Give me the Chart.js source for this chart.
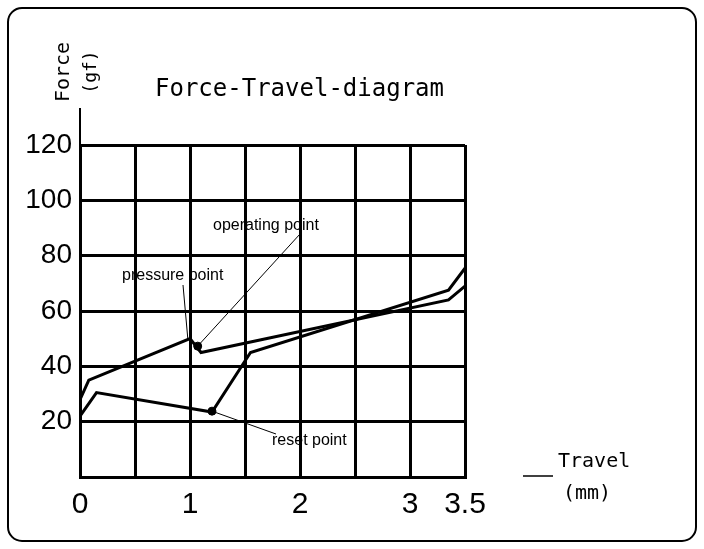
<!DOCTYPE html>
<html><head><meta charset="utf-8">
<script src="https://cdn.jsdelivr.net/npm/chart.js@4"></script>
<style>body{margin:0;background:#fff}canvas{display:block}</style>
</head><body><canvas id="c" width="704" height="549"></canvas>
<script>
const pressX=[0,0.08,1.0,1.1,3.35,3.5];
const pressY=[28,35,50,45,64,69];
const releaseX=[0,0.15,1.2,1.55,3.35,3.5];
const releaseY=[22,30.5,23.5,45,67.5,75.5];
const pointX=[1.07,1.2];
const pointY=[47.3,23.8];
const xTicks=[0,1,2,3,3.5];
const yTicks=[20,40,60,80,100,120];
const labels=[
 {text:'operating point',x:213,y:226,from:[1.07,47.3],to:[300,234]},
 {text:'pressure point',x:122,y:276,from:[0.98,50],to:[183,285]},
 {text:'reset point',x:272,y:441,from:[1.2,23.8],to:[276,434]}
];
const toPts=(xs,ys)=>xs.map((x,i)=>({x,y:ys[i]}));
const deco={id:'deco',afterDraw(ch){
 const c=ch.ctx,xs=ch.scales.x,ys=ch.scales.y;
 c.save();
 c.strokeStyle='#000';c.lineWidth=2;
 c.beginPath();c.roundRect(8,8,688,533,14);c.stroke();
 c.lineWidth=2;c.beginPath();c.moveTo(80,145);c.lineTo(80,108);c.stroke();
 c.fillStyle='#000';c.font='24px "DejaVu Sans Mono"';c.textBaseline='middle';
 c.fillText('Force-Travel-diagram',155,90);
 c.font='20px "DejaVu Sans Mono"';
 c.fillText('Travel',558,462);c.fillText('(mm)',563,494);
 c.lineWidth=1.5;c.beginPath();c.moveTo(523,476);c.lineTo(553,476);c.stroke();
 c.save();c.translate(64,72);c.rotate(-Math.PI/2);c.textAlign='center';c.fillText('Force',0,0);c.restore();
 c.save();c.translate(91,72);c.rotate(-Math.PI/2);c.textAlign='center';c.font='18px "DejaVu Sans Mono"';c.fillText('(gf)',0,0);c.restore();
 c.font='16px Arial';c.textBaseline='middle';
 labels.forEach(l=>{
  c.lineWidth=1;c.beginPath();c.moveTo(xs.getPixelForValue(l.from[0]),ys.getPixelForValue(l.from[1]));c.lineTo(l.to[0],l.to[1]);c.stroke();
  c.fillText(l.text,l.x,l.y);
 });
 c.restore();
}};
new Chart(document.getElementById('c'),{
 type:'scatter',
 data:{datasets:[
  {data:toPts(pressX,pressY),showLine:true,borderColor:'#000',borderWidth:3,pointRadius:0,tension:0},
  {data:toPts(releaseX,releaseY),showLine:true,borderColor:'#000',borderWidth:3,pointRadius:0,tension:0},
  {data:toPts(pointX,pointY),showLine:false,pointRadius:4,backgroundColor:'#000',borderColor:'#000'}
 ]},
 options:{responsive:false,devicePixelRatio:1,animation:false,
  layout:{padding:{left:0,top:145,right:239,bottom:0}},
  plugins:{legend:{display:false},tooltip:{enabled:false}},
  scales:{
   x:{type:'linear',min:0,max:3.5,afterFit:s=>{s.height=72},
    grid:{color:'#000',lineWidth:3,drawTicks:false},border:{color:'#000',width:3},
    ticks:{stepSize:0.5,padding:10,color:'#000',font:{family:'Arial',size:30},
     callback:v=>xTicks.includes(v)?String(v):''}},
   y:{min:0,max:120,afterFit:s=>{s.width=80},
    grid:{color:'#000',lineWidth:3,drawTicks:false},border:{color:'#000',width:3},
    ticks:{stepSize:20,padding:8,color:'#000',font:{family:'Arial',size:28},
     callback:v=>yTicks.includes(v)?String(v):''}}
  }},
 plugins:[deco]
});
</script></body></html>
